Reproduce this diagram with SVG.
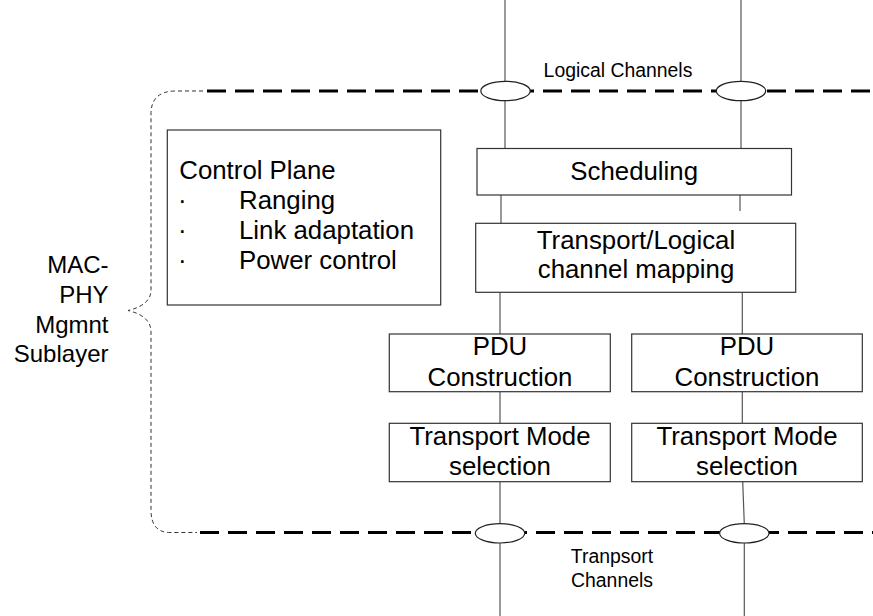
<svg xmlns="http://www.w3.org/2000/svg" width="873" height="616" viewBox="0 0 873 616">
<style>
.box{fill:#fff;stroke:#333;stroke-width:1.2}
.ln{stroke:#555;stroke-width:1.2;fill:none}
.ell{fill:#fff;stroke:#222;stroke-width:1.2}
.thick{stroke:#000;stroke-width:3;stroke-dasharray:19 9;fill:none}
.thin{stroke:#333;stroke-width:1;stroke-dasharray:4 3;fill:none}
text{font-family:"Liberation Sans",Arial,sans-serif;fill:#000}
.big{font-size:25.8px;text-anchor:middle}
.sm{font-size:19.4px;text-anchor:middle}
.cp{font-size:25.8px}
.side{font-size:24px;text-anchor:end}
</style>
<rect width="873" height="616" fill="#fff"/>
<g id="connectors">
<line class="ln" x1="505" y1="0" x2="505" y2="148.5"/>
<line class="ln" x1="741" y1="0" x2="741" y2="148.5"/>
<line class="ln" x1="501" y1="195" x2="501" y2="223.3"/>
<line class="ln" x1="740" y1="195" x2="740" y2="211"/>
<line class="ln" x1="500" y1="292.3" x2="500" y2="334"/>
<line class="ln" x1="742.3" y1="292.3" x2="742.3" y2="334"/>
<line class="ln" x1="500" y1="391.7" x2="500" y2="423.3"/>
<line class="ln" x1="742.3" y1="391.7" x2="742.3" y2="423.3"/>
<line class="ln" x1="500" y1="481.7" x2="500" y2="616"/>
<line class="ln" x1="742.7" y1="481.7" x2="744.3" y2="524"/>
<line class="ln" x1="744.3" y1="524" x2="744.3" y2="616"/>
</g>
<g id="sublayer-boundary">
<line class="thick" x1="207" y1="91" x2="873" y2="91"/>
<line class="thick" x1="200" y1="532.5" x2="873" y2="532.5"/>
<path class="thin" d="M203,91 L176,91 Q151,91 151,114 L151,290 Q151,305 128,310.5 Q151,316 151,332 L151,510 Q151,532.5 170,532.5 L197,532.5"/>
</g>
<g id="logical-channels">
<ellipse class="ell" cx="505.5" cy="91" rx="24.7" ry="9.7"/>
<ellipse class="ell" cx="741" cy="91" rx="24.7" ry="9.7"/>
<text class="sm" x="618" y="77">Logical Channels</text>
</g>
<g id="transport-channels">
<ellipse class="ell" cx="500" cy="533.3" rx="24.7" ry="9.7"/>
<ellipse class="ell" cx="744.3" cy="533.3" rx="24.7" ry="9.7"/>
<text class="sm" x="612" y="563">Tranpsort</text>
<text class="sm" x="612" y="587">Channels</text>
</g>
<g id="control-plane">
<rect class="box" x="167.3" y="130" width="273.4" height="175"/>
<text class="cp" x="179.3" y="178.5">Control Plane</text>
<text class="cp" x="178" y="208.5">·</text>
<text class="cp" x="239" y="208.5">Ranging</text>
<text class="cp" x="178" y="238.5">·</text>
<text class="cp" x="239" y="238.5">Link adaptation</text>
<text class="cp" x="178" y="268.5">·</text>
<text class="cp" x="239" y="268.5">Power control</text>
</g>
<g id="scheduling">
<rect class="box" x="477" y="148.5" width="314.5" height="46.5"/>
<text class="big" x="634.2" y="180">Scheduling</text>
</g>
<g id="mapping">
<rect class="box" x="475.7" y="223.3" width="320" height="69"/>
<text class="big" x="636" y="249.3">Transport/Logical</text>
<text class="big" x="636" y="278.3">channel mapping</text>
</g>
<g id="pdu1">
<rect class="box" x="389.3" y="334" width="221" height="57.7"/>
<text class="big" x="500" y="355">PDU</text>
<text class="big" x="500" y="385.7">Construction</text>
</g>
<g id="pdu2">
<rect class="box" x="631.7" y="334" width="230.6" height="57.7"/>
<text class="big" x="747" y="355">PDU</text>
<text class="big" x="747" y="385.7">Construction</text>
</g>
<g id="tm1">
<rect class="box" x="389.3" y="423.3" width="221" height="58.4"/>
<text class="big" x="500" y="445">Transport Mode</text>
<text class="big" x="500" y="475">selection</text>
</g>
<g id="tm2">
<rect class="box" x="631.7" y="423.3" width="230.6" height="58.4"/>
<text class="big" x="747" y="445">Transport Mode</text>
<text class="big" x="747" y="475">selection</text>
</g>
<g id="mac-phy-label">
<text class="side" x="108.5" y="272.5">MAC-</text>
<text class="side" x="108.5" y="302.5">PHY</text>
<text class="side" x="108.5" y="332.5">Mgmnt</text>
<text class="side" x="108.5" y="362">Sublayer</text>
</g>
</svg>
